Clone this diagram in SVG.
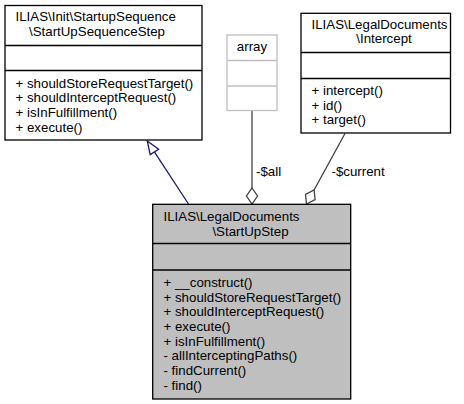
<svg xmlns="http://www.w3.org/2000/svg" width="464" height="404" viewBox="0 0 464 404">
<style>
text{font-family:"Liberation Sans",Arial,sans-serif;font-size:13.3px;fill:#000}
.box{fill:#fff;stroke:#000;stroke-width:1.3}
.main{fill:#bfbfbf;stroke:#000;stroke-width:1.3}
.gbox{fill:#fff;stroke:#bfbfbf;stroke-width:1.3}
.m{text-anchor:middle}
.inh{stroke:#191970;stroke-width:1.3;fill:none}
.agg{stroke:#404040;stroke-width:1.3;fill:none}
</style>
<rect width="464" height="404" fill="#fff"/>
<g id="edges">
<path class="inh" d="M188.5,204 L154.4,151.9"/>
<polygon class="inh" points="147.3,141 158.6,149.2 150.2,154.6" style="fill:#fff"/>
<path class="agg" d="M252,111 L252,188"/>
<polygon class="agg" points="252,188 257.5,196 252,204 246.5,196" style="fill:#fff"/>
<text x="256" y="176">-$all</text>
<path class="agg" d="M345,133.5 L314.1,190"/>
<polygon class="agg" points="314.1,190 315.1,199.6 306.5,204 305.5,194.4" style="fill:#fff"/>
<text x="331.5" y="176">-$current</text>
</g>
<g id="node-startupsequencestep">
<rect class="box" x="5" y="5.5" width="197" height="134.5"/>
<line class="box" x1="5" y1="45.5" x2="202" y2="45.5"/>
<line class="box" x1="5" y1="70.5" x2="202" y2="70.5"/>
<text x="15.5" y="21">ILIAS\Init\StartupSequence</text>
<text class="m" x="97" y="35.7">\StartUpSequenceStep</text>
<text x="15.5" y="87.5">+ shouldStoreRequestTarget()</text>
<text x="15.5" y="102.2">+ shouldInterceptRequest()</text>
<text x="15.5" y="116.8">+ isInFulfillment()</text>
<text x="15.5" y="131.5">+ execute()</text>
</g>
<g id="node-array">
<rect class="gbox" x="227" y="35" width="50" height="75.5"/>
<line class="gbox" x1="227" y1="60.5" x2="277" y2="60.5"/>
<line class="gbox" x1="227" y1="86" x2="277" y2="86"/>
<text class="m" x="252" y="51">array</text>
</g>
<g id="node-intercept">
<rect class="box" x="301" y="13.3" width="149.5" height="119.7"/>
<line class="box" x1="301" y1="52.5" x2="450.5" y2="52.5"/>
<line class="box" x1="301" y1="78.5" x2="450.5" y2="78.5"/>
<text x="311.5" y="28.6">ILIAS\LegalDocuments</text>
<text class="m" x="384" y="43.3">\Intercept</text>
<text x="311.5" y="95.3">+ intercept()</text>
<text x="311.5" y="109.8">+ id()</text>
<text x="311.5" y="124.3">+ target()</text>
</g>
<g id="node-startupstep">
<rect class="main" x="152.7" y="204.3" width="198" height="194.7"/>
<line class="main" x1="152.7" y1="243.5" x2="350.7" y2="243.5"/>
<line class="main" x1="152.7" y1="270" x2="350.7" y2="270"/>
<text x="163.5" y="220.8">ILIAS\LegalDocuments</text>
<text class="m" x="250.5" y="235.5">\StartUpStep</text>
<text x="163.5" y="287">+ __construct()</text>
<text x="163.5" y="301.7">+ shouldStoreRequestTarget()</text>
<text x="163.5" y="316.3">+ shouldInterceptRequest()</text>
<text x="163.5" y="331">+ execute()</text>
<text x="163.5" y="345.7">+ isInFulfillment()</text>
<text x="163.5" y="360.3">- allInterceptingPaths()</text>
<text x="163.5" y="375">- findCurrent()</text>
<text x="163.5" y="389.7">- find()</text>
</g>
</svg>
